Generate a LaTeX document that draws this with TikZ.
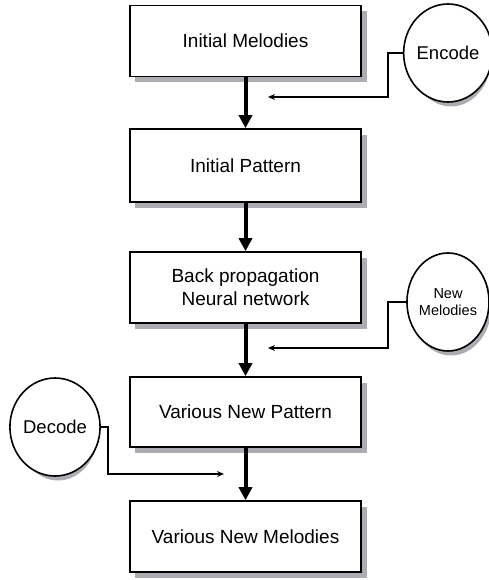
\documentclass[tikz,border=0pt]{standalone}
\usepackage{fontspec}
\setmainfont{Liberation Sans}
\usetikzlibrary{arrows.meta,shapes.geometric}
\definecolor{shadowgray}{RGB}{172,172,178}
\begin{document}
\begin{tikzpicture}[x=1pt,y=-1pt,
  box/.style={draw=black,line width=1.6pt,fill=white,minimum width=231pt,minimum height=71pt,inner sep=0pt,align=center,font=\fontsize{19}{23}\selectfont},
  oval/.style={draw=black,ellipse,line width=1.6pt,fill=white,minimum width=80pt,minimum height=98pt,inner sep=0pt,align=center,font=\fontsize{18.5}{22}\selectfont},
  shadowfill/.style={fill=shadowgray,draw=none},
  bigarrow/.style={line width=4pt,-{Triangle[length=13pt,width=13pt]}},
  smallarrow/.style={line width=1.5pt,-{Stealth[length=7pt,width=6pt]}}]
\useasboundingbox (0,0) rectangle (489,580);
\foreach \yc/\h in {41/71,165.5/73,287.5/71,412/70,536.5/71}
  \fill[shadowfill] (245.5-115.5+5,\yc-\h/2+6) rectangle (245.5+115.5+6,\yc+\h/2+6);
\foreach \xc/\yc in {448/53,448/302,55/427}
  \fill[shadowfill] (\xc+3,\yc+4) ellipse [x radius=40.5pt,y radius=49.5pt];
\node[box] (b1) at (245.5,41) {Initial Melodies};
\node[box,minimum height=73pt] (b2) at (245.5,165.5) {Initial Pattern};
\node[box] (b3) at (245.5,287.5) {Back propagation\\Neural network};
\node[box,minimum height=70pt] (b4) at (245.5,412) {Various New Pattern};
\node[box] (b5) at (245.5,536.5) {Various New Melodies};
\node[oval] (enc) at (448,53) {Encode};
\node[oval,font=\fontsize{14.5}{17.5}\selectfont] (nm) at (448,302) {New\\Melodies};
\node[oval] (dec) at (55,427) {Decode};
\draw[bigarrow] (b1) -- (b2);
\draw[bigarrow] (b2) -- (b3);
\draw[bigarrow] (b3) -- (b4);
\draw[bigarrow] (b4) -- (b5);
\coordinate (e1) at (388,97);
\coordinate (e2) at (268,97);
\coordinate (n1) at (388,348);
\coordinate (n2) at (268,348);
\coordinate (d1) at (108,474);
\coordinate (d2) at (224,474);
\draw[smallarrow] (enc.west) -| (e1) -- (e2);
\draw[smallarrow] (nm.west) -| (n1) -- (n2);
\draw[smallarrow] (dec.east) -| (d1) -- (d2);
\end{tikzpicture}
\end{document}
